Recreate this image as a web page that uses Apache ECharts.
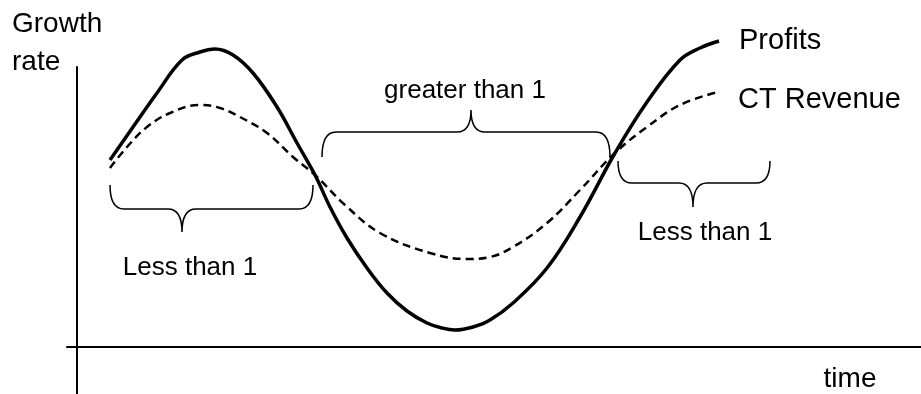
<!DOCTYPE html>
<html>
<head>
<meta charset="utf-8">
<title>Growth rate over time</title>
<script src="https://cdn.jsdelivr.net/npm/echarts@6/dist/echarts.min.js"></script>
<style>
  html, body { margin: 0; padding: 0; background: #fff; }
  #main { width: 921px; height: 394px; }
</style>
</head>
<body>
<div id="main"></div>
<script>
// Profits (solid line)
const profitTime = [3.3, 5.6, 8.0, 10.5, 12.3, 13.8, 15.6, 17.6, 20.0, 22.0, 23.8, 25.3, 27.0, 29.0, 31.0,
  33.0, 35.0, 36.5, 37.8, 39.6, 41.3, 43.6, 47.0, 50.3, 53.8, 57.0, 60.3, 62.3, 64.2];
const profitRate = [18.7, 22.0, 25.4, 28.7, 29.5, 29.8, 29.2, 27.4, 24.0, 20.4, 17.2, 14.0, 10.9, 7.9, 5.4,
  3.6, 2.4, 1.9, 1.7, 2.0, 2.7, 4.4, 7.9, 13.0, 19.4, 24.5, 28.7, 29.9, 30.6];

// CT Revenue (dashed line)
const revenueTime = [3.3, 5.0, 7.0, 9.3, 12.3, 14.3, 16.3, 19.0, 21.6, 23.8, 26.8, 30.3, 35.3, 39.0,
  41.3, 43.6, 47.0, 50.3, 53.8, 57.0, 60.3, 64.1];
const revenueRate = [17.9, 20.0, 22.0, 23.4, 24.2, 23.9, 23.0, 21.4, 19.0, 17.2, 14.2, 11.4, 9.4, 8.8,
  9.0, 10.0, 12.4, 15.7, 19.4, 22.0, 24.2, 25.5];

// braces: span on the time axis, growth value at the ends, the bar and the tip
const braceStart = [3.3, 24.5, 54.1];
const braceEnd = [23.6, 53.3, 69.3];
const braceTipAt = [10.5, 39.4, 61.6];
const braceEdge = [16.2, 19.0, 18.6];
const braceBar = [13.8, 21.5, 16.4];
const braceTip = [11.5, 23.7, 14.0];
const braceText = ['Less than 1', 'greater than 1', 'Less than 1'];
const braceTextTime = [11.3, 38.8, 62.8];
const braceTextRate = [7.9, 25.6, 11.4];

const FONT = '"Liberation Sans", Arial, Helvetica, sans-serif';

const profitData = profitTime.map((t, i) => [t, profitRate[i]]);
const revenueData = revenueTime.map((t, i) => [t, revenueRate[i]]);
const braceData = braceStart.map((s, i) => [s, braceEnd[i], braceTipAt[i], braceTextTime[i],
  braceEdge[i], braceBar[i], braceTip[i], braceTextRate[i]]);

function renderBrace(params, api) {
  const i = params.dataIndex;
  const a = api.coord([api.value(0), api.value(4)]);
  const b = api.coord([api.value(1), api.value(4)]);
  const bar = api.coord([api.value(0), api.value(5)])[1];
  const tip = api.coord([api.value(2), api.value(6)]);
  const lab = api.coord([api.value(3), api.value(7)]);
  const r = 14;
  const d = 'M' + a[0] + ',' + a[1] +
    ' Q' + a[0] + ',' + bar + ' ' + (a[0] + r) + ',' + bar +
    ' L' + (tip[0] - r) + ',' + bar +
    ' Q' + tip[0] + ',' + bar + ' ' + tip[0] + ',' + tip[1] +
    ' Q' + tip[0] + ',' + bar + ' ' + (tip[0] + r) + ',' + bar +
    ' L' + (b[0] - r) + ',' + bar +
    ' Q' + b[0] + ',' + bar + ' ' + b[0] + ',' + b[1];
  return {
    type: 'group',
    children: [
      {
        type: 'path',
        shape: { pathData: d },
        style: { fill: 'none', stroke: '#000', lineWidth: 1.5 }
      },
      {
        type: 'text',
        style: {
          text: braceText[i], x: lab[0], y: lab[1],
          align: 'center', verticalAlign: 'middle',
          fontSize: 26, fontFamily: FONT, fill: '#000'
        }
      }
    ]
  };
}

const chart = echarts.init(document.getElementById('main'));
chart.setOption({
  animation: false,
  backgroundColor: '#fff',
  grid: { left: 67, right: 0, top: 67, bottom: 0 },
  xAxis: {
    type: 'value', min: -1, max: 84.4,
    axisLine: { show: true, onZero: true, lineStyle: { color: '#000', width: 2 } },
    axisTick: { show: false }, axisLabel: { show: false }, splitLine: { show: false }
  },
  yAxis: {
    type: 'value', min: -4.7, max: 28,
    axisLine: { show: true, onZero: true, lineStyle: { color: '#000', width: 2 } },
    axisTick: { show: false }, axisLabel: { show: false }, splitLine: { show: false }
  },
  graphic: [
    { type: 'text', x: 12, y: 24, style: { text: 'Growth', fontSize: 28, fontFamily: FONT, fill: '#000', verticalAlign: 'middle' } },
    { type: 'text', x: 12, y: 62, style: { text: 'rate', fontSize: 28, fontFamily: FONT, fill: '#000', verticalAlign: 'middle' } },
    { type: 'text', x: 850, y: 379, style: { text: 'time', fontSize: 28, fontFamily: FONT, fill: '#000', align: 'center', verticalAlign: 'middle' } }
  ],
  series: [
    {
      name: 'Profits',
      type: 'line',
      data: profitData,
      smooth: 0.4,
      clip: false,
      showSymbol: false,
      lineStyle: { color: '#000', width: 3.5 },
      endLabel: {
        show: true, formatter: '{a}', distance: 20,
        color: '#000', fontSize: 29, fontFamily: FONT
      }
    },
    {
      name: 'CT Revenue',
      type: 'line',
      data: revenueData,
      smooth: 0.4,
      clip: false,
      showSymbol: false,
      lineStyle: { color: '#000', width: 2.5, type: [8, 5] },
      endLabel: {
        show: true, formatter: '{a}', distance: 20, offset: [0, 8],
        color: '#000', fontSize: 29, fontFamily: FONT
      }
    },
    {
      name: 'braces',
      type: 'custom',
      data: braceData,
      encode: { x: [0, 1, 2, 3], y: [4, 5, 6, 7] },
      renderItem: renderBrace,
      silent: true
    }
  ]
});
</script>
</body>
</html>
